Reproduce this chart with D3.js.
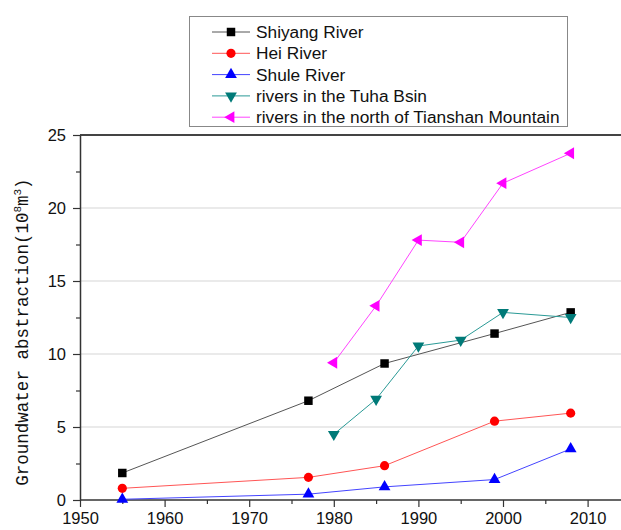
<!DOCTYPE html>
<html>
<head>
<meta charset="utf-8">
<script src="https://cdn.jsdelivr.net/npm/d3@7"></script>
<style>
  body { margin: 0; background: #fff; }
  svg { display: block; }
</style>
</head>
<body>
<div id="chart"></div>
<script>
// data
var basinYears = [1955, 1977, 1986, 1999, 2008];
var shiyang = [1.85, 6.8, 9.35, 11.4, 12.85];
var hei = [0.8, 1.55, 2.35, 5.4, 5.95];
var shule = [0.05, 0.4, 0.9, 1.4, 3.5];
var westYears = [1980, 1985, 1990, 1995, 2000, 2008];
var tuha = [4.5, 6.9, 10.55, 10.95, 12.85, 12.5];
var tianshan = [9.4, 13.3, 17.8, 17.65, 21.7, 23.75];

var seriesNames = ['Shiyang River', 'Hei River', 'Shule River', 'rivers in the Tuha Bsin', 'rivers in the north of Tianshan Mountain'];
var xTicks = [1950, 1960, 1970, 1980, 1990, 2000, 2010];
var yTicks = [0, 5, 10, 15, 20, 25];

var width = 621, height = 530;
var margin = {top: 135, left: 80, bottom: 30};

var series = [
    {name: seriesNames[0], years: basinYears, vals: shiyang, line: '#555', fill: '#000', shape: d3.symbolSquare, size: 72, rot: 0},
    {name: seriesNames[1], years: basinYears, vals: hei, line: '#ff5555', fill: '#ff0000', shape: d3.symbolCircle, size: 66, rot: 0},
    {name: seriesNames[2], years: basinYears, vals: shule, line: '#4444ff', fill: '#0000ff', shape: d3.symbolTriangle, size: 60, rot: 0},
    {name: seriesNames[3], years: westYears, vals: tuha, line: '#2a9a96', fill: '#007a78', shape: d3.symbolTriangle, size: 60, rot: 180},
    {name: seriesNames[4], years: westYears, vals: tianshan, line: '#ff44ff', fill: '#ff00ff', shape: d3.symbolTriangle, size: 60, rot: -90}
];

var x = d3.scaleLinear().domain([1950, 2017]).range([margin.left, margin.left + 8.46 * 67]);
var y = d3.scaleLinear().domain([0, 25]).range([height - margin.bottom, margin.top]);

var svg = d3.select('#chart').append('svg')
    .attr('width', width)
    .attr('height', height);

// grid lines
svg.append('g')
    .selectAll('line')
    .data(yTicks.filter(function(d){ return d > 0 && d < 25; }))
    .join('line')
    .attr('x1', x(1950)).attr('x2', width)
    .attr('y1', function(d){ return y(d); })
    .attr('y2', function(d){ return y(d); })
    .attr('stroke', '#d6d6d6')
    .attr('stroke-width', 1.2);

// top frame
svg.append('line')
    .attr('x1', x(1950)).attr('x2', width)
    .attr('y1', y(25)).attr('y2', y(25))
    .attr('stroke', '#444').attr('stroke-width', 2);

// x axis, major and minor ticks
var xAxis = svg.append('g')
    .attr('transform', 'translate(0,' + y(0) + ')')
    .call(d3.axisBottom(x).tickValues(xTicks).tickFormat(d3.format('d')).tickSize(7).tickSizeOuter(0));
svg.append('g')
    .attr('transform', 'translate(0,' + y(0) + ')')
    .call(d3.axisBottom(x).tickValues(d3.range(1955, 2017, 10)).tickFormat('').tickSize(4).tickSizeOuter(0))
    .select('.domain').remove();

// y axis
var yAxis = svg.append('g')
    .attr('transform', 'translate(' + x(1950) + ',0)')
    .call(d3.axisLeft(y).tickValues(yTicks).tickSize(7).tickSizeOuter(0));
svg.append('g')
    .attr('transform', 'translate(' + x(1950) + ',0)')
    .call(d3.axisLeft(y).tickValues(d3.range(2.5, 25, 5)).tickFormat('').tickSize(4).tickSizeOuter(0))
    .select('.domain').remove();

svg.selectAll('.domain').attr('stroke', '#333').attr('stroke-width', 1.5);
svg.selectAll('.tick line').attr('stroke', '#333').attr('stroke-width', 1.2);
xAxis.selectAll('.domain').attr('d', 'M' + x(1950) + ',0H' + width);
xAxis.selectAll('text')
    .attr('font-family', 'Liberation Sans, Arial, sans-serif')
    .attr('font-size', 16.5).attr('fill', '#111')
    .attr('dy', null).attr('y', 24);
yAxis.selectAll('text')
    .attr('font-family', 'Liberation Sans, Arial, sans-serif')
    .attr('font-size', 16.5).attr('fill', '#111')
    .attr('x', -14);

// y axis title
var title = svg.append('text')
    .attr('transform', 'translate(28,' + 332 + ') rotate(-90)')
    .attr('text-anchor', 'middle')
    .attr('font-family', 'Liberation Mono, DejaVu Sans Mono, monospace')
    .attr('font-size', 17.5)
    .attr('fill', '#111');
title.append('tspan').text('Groundwater abstraction(10');
title.append('tspan').attr('font-size', 11).attr('dy', -7).text('8');
title.append('tspan').attr('dy', 7).text('m');
title.append('tspan').attr('font-size', 11).attr('dy', -7).text('3');
title.append('tspan').attr('dy', 7).text(')');

// series
var line = d3.line();
series.forEach(function(s){
    var pts = s.years.map(function(yr, i){ return [x(yr), y(s.vals[i])]; });
    svg.append('path')
        .attr('d', line(pts))
        .attr('fill', 'none')
        .attr('stroke', s.line)
        .attr('stroke-width', 1);
    svg.append('g')
        .selectAll('path')
        .data(pts)
        .join('path')
        .attr('d', d3.symbol().type(s.shape).size(s.size))
        .attr('transform', function(d){ return 'translate(' + d[0] + ',' + d[1] + ') rotate(' + s.rot + ')'; })
        .attr('fill', s.fill);
});

// legend
var legend = svg.append('g');
legend.append('rect')
    .attr('x', 189.5).attr('y', 16.5)
    .attr('width', 378).attr('height', 110)
    .attr('fill', '#fff')
    .attr('stroke', '#888');
var rows = legend.selectAll('g.row')
    .data(series)
    .join('g')
    .attr('transform', function(d, i){ return 'translate(0,' + (32 + i * 21.3) + ')'; });
rows.append('line')
    .attr('x1', 212).attr('x2', 250)
    .attr('stroke', function(d){ return d.line; })
    .attr('stroke-width', 1);
rows.append('path')
    .attr('d', function(d){ return d3.symbol().type(d.shape).size(d.size)(); })
    .attr('transform', function(d){ return 'translate(231,0) rotate(' + d.rot + ')'; })
    .attr('fill', function(d){ return d.fill; });
rows.append('text')
    .attr('x', 256).attr('y', 6)
    .attr('font-family', 'Liberation Sans, Arial, sans-serif')
    .attr('font-size', 17.3)
    .attr('fill', '#111')
    .text(function(d){ return d.name; });
</script>
</body>
</html>
